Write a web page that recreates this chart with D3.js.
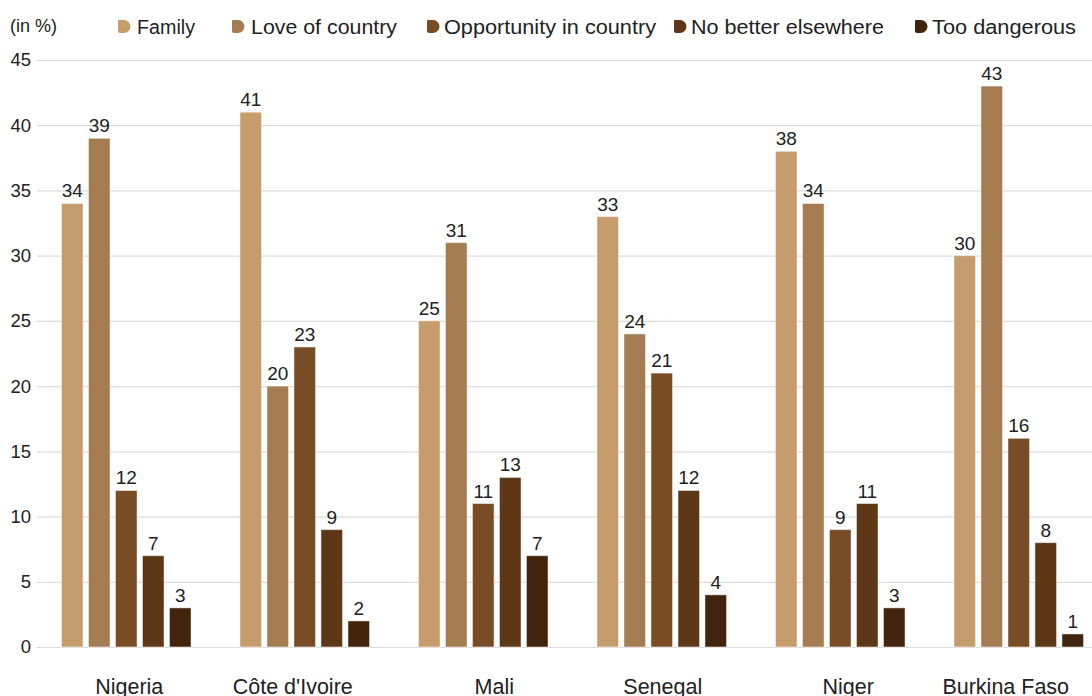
<!DOCTYPE html>
<html>
<head>
<meta charset="utf-8">
<script src="https://cdn.jsdelivr.net/npm/d3@7"></script>
<style>
  body { margin: 0; background: #fff; }
  svg text { font-family: "Liberation Sans", Arial, sans-serif; fill: #222; }
</style>
</head>
<body>
<div id="chart"></div>
<script>
// data
var countries = ["Nigeria", "Côte d'Ivoire", "Mali", "Senegal", "Niger", "Burkina Faso"];
var reasons = ["Family", "Love of country", "Opportunity in country", "No better elsewhere", "Too dangerous"];
var family      = [34, 41, 25, 33, 38, 30];
var loveCountry = [39, 20, 31, 24, 34, 43];
var opportunity = [12, 23, 11, 21, 9, 16];
var noBetter    = [7, 9, 13, 12, 11, 8];
var tooDanger   = [3, 2, 7, 4, 3, 1];
var yTicks = [0, 5, 10, 15, 20, 25, 30, 35, 40, 45];
var colors = ["#c69c6d", "#a57c52", "#784d26", "#5d3716", "#42230c"];

var seriesVals = [family, loveCountry, opportunity, noBetter, tooDanger];
var rows = countries.map(function(c, i) {
  return { country: c, values: reasons.map(function(r, j) { return { key: r, value: seriesVals[j][i] }; }) };
});

var width = 1092, height = 696;

var svg = d3.select("#chart").append("svg")
  .attr("width", width)
  .attr("height", height);

var x0 = d3.scaleBand().domain(countries).range([37, 1108]);
var x1 = d3.scaleBand().domain(reasons).range([-64.8, 64.8]).paddingInner(0.2).paddingOuter(0);
var y = d3.scaleLinear().domain([0, 45]).range([647, 60]);
var color = d3.scaleOrdinal().domain(reasons).range(colors);

// gridlines + y labels
var yAxis = d3.axisLeft(y).tickValues(yTicks).tickSize(-(width - 37)).tickPadding(6);
var gy = svg.append("g")
  .attr("transform", "translate(37,0)")
  .call(yAxis);
gy.select(".domain").remove();
gy.selectAll(".tick line").attr("stroke", "#dcdcdc").attr("stroke-width", 1.2);
gy.selectAll(".tick text").style("font-size", "18.5px").attr("fill", "#222");

// bars
var groups = svg.append("g").selectAll("g")
  .data(rows)
  .enter()
  .append("g")
  .attr("transform", d => "translate(" + (x0(d.country) + x0.bandwidth() / 2) + ",0)");

groups.selectAll("rect")
  .data(d => d.values)
  .enter()
  .append("rect")
  .attr("x", d => x1(d.key))
  .attr("y", d => y(d.value))
  .attr("width", x1.bandwidth())
  .attr("height", d => y(0) - y(d.value))
  .attr("fill", d => color(d.key))
  .attr("stroke", "#fff")
  .attr("stroke-opacity", 0.5)
  .attr("stroke-width", 1);

groups.selectAll("text.val")
  .data(d => d.values)
  .enter()
  .append("text")
  .attr("class", "val")
  .attr("x", d => x1(d.key) + x1.bandwidth() / 2)
  .attr("y", d => y(d.value) - 6)
  .attr("text-anchor", "middle")
  .style("font-size", "19px")
  .text(d => d.value);

// country labels (cut off at the bottom like the original), small nudges as in the source
var labelNudge = [3, -12, 11, 1, 8, -13];
svg.append("g").selectAll("text")
  .data(countries)
  .enter()
  .append("text")
  .attr("x", (d, i) => x0(d) + x0.bandwidth() / 2 + labelNudge[i])
  .attr("y", 694)
  .attr("text-anchor", "middle")
  .style("font-size", "21.5px")
  .text(d => d);

// unit label
svg.append("text")
  .attr("x", 10)
  .attr("y", 32)
  .style("font-size", "18px")
  .text("(in %)");

// legend
var legendX = [118, 232, 427, 674, 915];
var legendW = [58, 146, 212, 193, 144];
var legend = svg.append("g").selectAll("g")
  .data(reasons)
  .enter()
  .append("g")
  .attr("transform", (d, i) => "translate(" + legendX[i] + ",20)");

legend.append("path")
  .attr("d", "M0,1 Q0,0 1,0 H6 A6.5,6.5 0 0 1 6,13 H2 Q0,13 0,11 Z")
  .attr("fill", d => color(d));

legend.append("text")
  .attr("x", (d, i) => i < 2 ? 19 : 17)
  .attr("y", 14)
  .attr("textLength", (d, i) => legendW[i])
  .attr("lengthAdjust", "spacingAndGlyphs")
  .style("font-size", "20px")
  .text(d => d);
</script>
</body>
</html>
